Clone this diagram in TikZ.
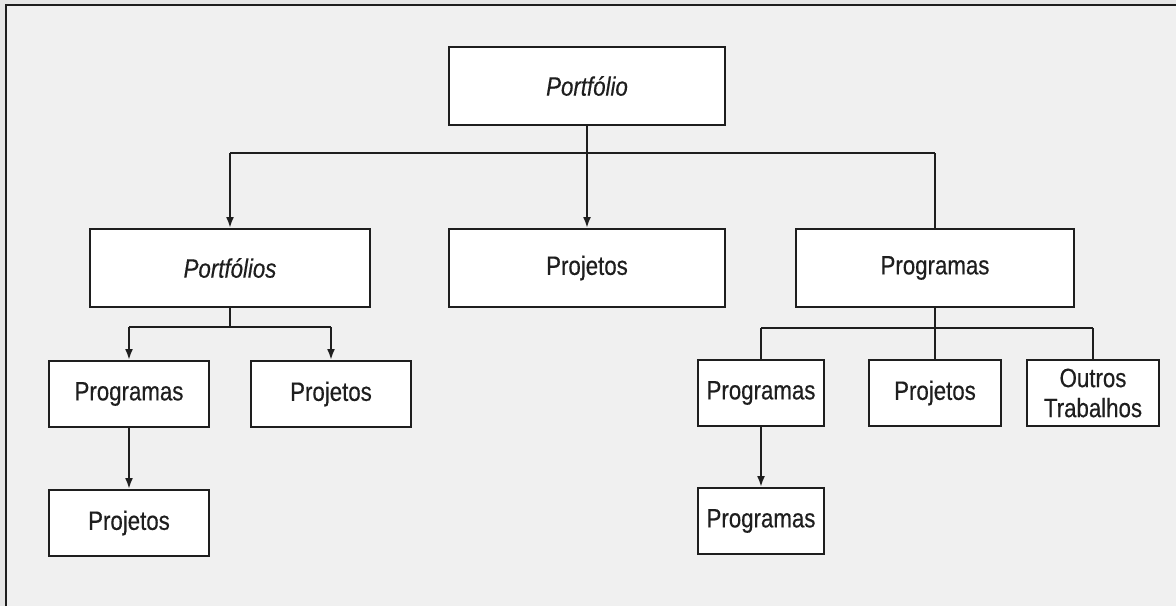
\documentclass[tikz,border=0pt]{standalone}
\usepackage{fontspec}
\setmainfont{Liberation Sans}[FakeStretch=0.84,FakeBold=0.4]
\usetikzlibrary{arrows.meta}
\definecolor{pagebg}{HTML}{F0F0F0}
\definecolor{outerbg}{HTML}{E6E6E6}
\definecolor{ink}{HTML}{1E1E1E}
\begin{document}
\begin{tikzpicture}[x=1pt,y=-1pt,
  box/.style={draw=ink,fill=white,line width=2pt,rectangle,inner sep=0pt,
    font=\fontsize{26.5}{30}\selectfont,text=ink,align=center},
  link/.style={draw=ink,line width=2pt},
  arr/.style={link,-{Latex[length=11pt,width=8pt]}}]
\useasboundingbox (0,0) rectangle (1176,606);
% background and frame
\fill[outerbg] (0,0) rectangle (1176,606);
\fill[pagebg] (6,5) rectangle (1176,606);
\draw[ink,line width=2pt] (6,606) -- (6,5) -- (1176,5);

% level 0
\node[box,minimum width=276pt,minimum height=78pt] (top) at (587,86) {\itshape Portfólio};
% level 1
\node[box,minimum width=280pt,minimum height=78pt] (pfs) at (230,268) {\itshape Portfólios};
\node[box,minimum width=276pt,minimum height=78pt] (prj) at (587,268) {Projetos};
\node[box,minimum width=278pt,minimum height=78pt] (prg) at (935,268) {Programas};
% level 2, left branch
\node[box,minimum width=160pt,minimum height=66pt] (lprg) at (129,394) {Programas};
\node[box,minimum width=160pt,minimum height=66pt] (lprj) at (331,394) {Projetos};
\node[box,minimum width=160pt,minimum height=66pt] (lprj2) at (129,523) {Projetos};
% level 2, right branch
\node[box,minimum width=126pt,minimum height=66pt] (rprg) at (761,393) {Programas};
\node[box,minimum width=132pt,minimum height=66pt] (rprj) at (935,393) {Projetos};
\node[box,minimum width=132pt,minimum height=66pt] (rout) at (1093,393) {Outros\\Trabalhos};
\node[box,minimum width=126pt,minimum height=66pt] (rprg2) at (761,521) {Programas};

% bus points
\coordinate (b0) at (587,153);
\coordinate (b0l) at (pfs.north |- b0);
\coordinate (b0r) at (prg.north |- b0);
\coordinate (b1) at (230,327);
\coordinate (b1l) at (lprg.north |- b1);
\coordinate (b1r) at (lprj.north |- b1);
\coordinate (b2) at (935,328);
\coordinate (b2l) at (rprg.north |- b2);
\coordinate (b2r) at (rout.north |- b2);

% connectors from the top box
\draw[link] (top.south) -- (b0);
\draw[link] (b0l) -- (b0r);
\draw[arr] (b0l) -- (pfs.north);
\draw[arr] (b0) -- (prj.north);
\draw[link] (b0r) -- (prg.north);
% left branch
\draw[link] (pfs.south) -- (b1);
\draw[link] (b1l) -- (b1r);
\draw[arr] (b1l) -- (lprg.north);
\draw[arr] (b1r) -- (lprj.north);
\draw[arr] (lprg.south) -- (lprj2.north);
% right branch
\draw[link] (prg.south) -- (b2);
\draw[link] (b2l) -- (b2r);
\draw[link] (b2l) -- (rprg.north);
\draw[link] (b2) -- (rprj.north);
\draw[link] (b2r) -- (rout.north);
\draw[arr] (rprg.south) -- (rprg2.north);
\end{tikzpicture}
\end{document}
